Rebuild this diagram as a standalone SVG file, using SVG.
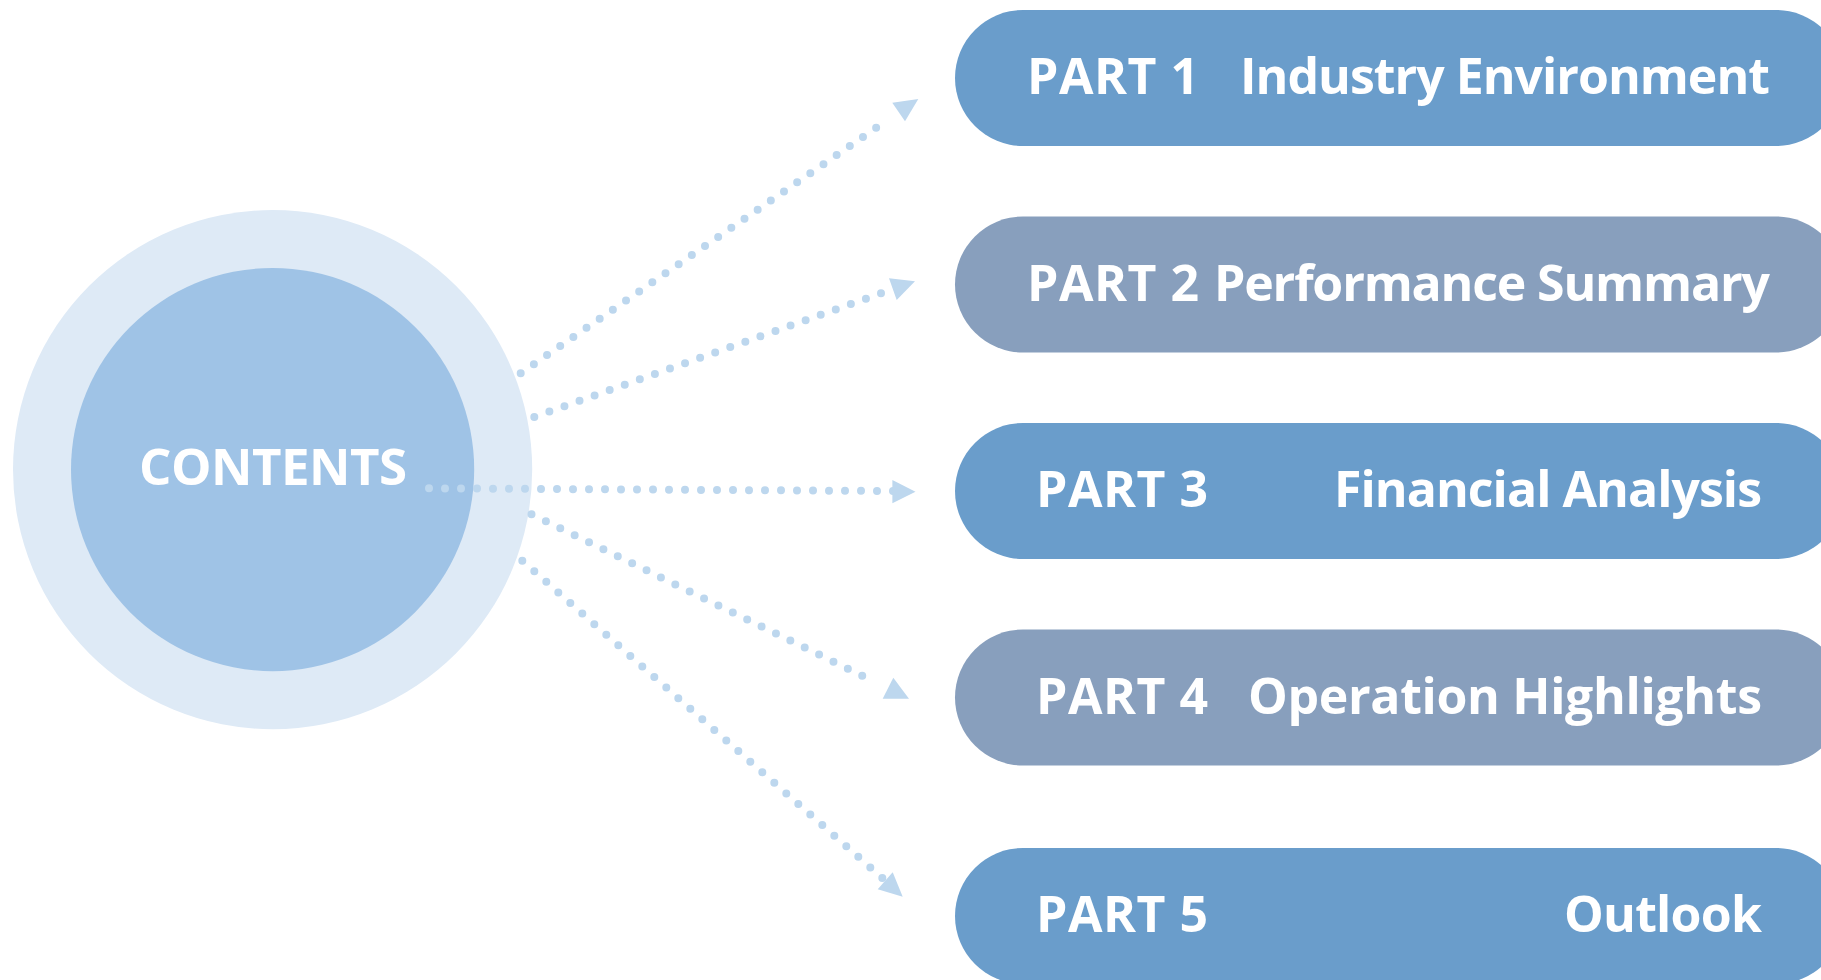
<svg xmlns="http://www.w3.org/2000/svg" width="1821" height="980" viewBox="0 0 1821 980">
  <style>
    .ring { fill: #DEEAF6; }
    .core { fill: #9FC3E6; }
    .title { font-family: "Open Sans", "Noto Sans", "Liberation Sans", sans-serif; font-weight: 700; fill: #FFFFFF; }
    .pill-a { fill: #6A9DCB; }
    .pill-b { fill: #889FBD; }
    .label { font-family: "Open Sans", "Noto Sans", "Liberation Sans", sans-serif; font-weight: 700; font-size: 50px; fill: #FFFFFF; }
    .dots { fill: none; stroke: #BDD7EE; stroke-width: 8; stroke-linecap: round; stroke-dasharray: 0 1; }
    .head { fill: #BDD7EE; }
  </style>

  <!-- central hub -->
  <g id="contents">
    <circle class="ring" cx="272.6" cy="469.6" r="259.6"/>
    <circle class="core" cx="272.6" cy="469.6" r="201.6"/>
    <text class="title" x="273" y="485" font-size="51" text-anchor="middle" textLength="268">CONTENTS</text>
  </g>

  <!-- dotted connectors; pathLength = number of dot gaps so each line ends on a dot -->
  <g id="connectors">
    <path class="dots" d="M520.7,373.3 L889.3,118.7" pathLength="28"/>
    <polygon class="head" points="892.3,102.7 918.3,99 905,121.3"/>

    <path class="dots" d="M534.3,417 L881,293.3" pathLength="23"/>
    <polygon class="head" points="889,278.3 915,281.3 896.7,300"/>

    <path class="dots" d="M429,488.3 L893,491" pathLength="29"/>
    <polygon class="head" points="892.4,480 915.5,491.7 892.4,503.3"/>

    <path class="dots" d="M531.5,514.2 L876.6,682.7" pathLength="24"/>
    <polygon class="head" points="882.7,698.7 909,698.7 893.3,677.7"/>

    <path class="dots" d="M522.3,560.7 L882.3,878" pathLength="30"/>
    <polygon class="head" points="877.7,889.3 902.7,896.7 892.7,872.3"/>
  </g>

  <!-- section pills -->
  <g id="part1">
    <rect class="pill-a" x="955" y="10" width="889" height="136" rx="68" ry="68"/>
    <text class="label" x="1027" y="94" textLength="172">PART 1</text>
    <text class="label" x="1770" y="94" text-anchor="end" textLength="530">Industry Environment</text>
  </g>

  <g id="part2">
    <rect class="pill-b" x="955" y="216.5" width="889" height="136" rx="68" ry="68"/>
    <text class="label" x="1027" y="300.5" textLength="172">PART 2</text>
    <text class="label" x="1770" y="300.5" text-anchor="end" textLength="556">Performance Summary</text>
  </g>

  <g id="part3">
    <rect class="pill-a" x="955" y="423" width="889" height="136" rx="68" ry="68"/>
    <text class="label" x="1036" y="507" textLength="172">PART 3</text>
    <text class="label" x="1762" y="507" text-anchor="end" textLength="428">Financial Analysis</text>
  </g>

  <g id="part4">
    <rect class="pill-b" x="955" y="629.5" width="889" height="136" rx="68" ry="68"/>
    <text class="label" x="1036" y="713.5" textLength="172">PART 4</text>
    <text class="label" x="1762" y="713.5" text-anchor="end" textLength="514">Operation Highlights</text>
  </g>

  <g id="part5">
    <rect class="pill-a" x="955" y="848" width="889" height="136" rx="68" ry="68"/>
    <text class="label" x="1036" y="932" textLength="172">PART 5</text>
    <text class="label" x="1762" y="932" text-anchor="end" textLength="198">Outlook</text>
  </g>
</svg>
